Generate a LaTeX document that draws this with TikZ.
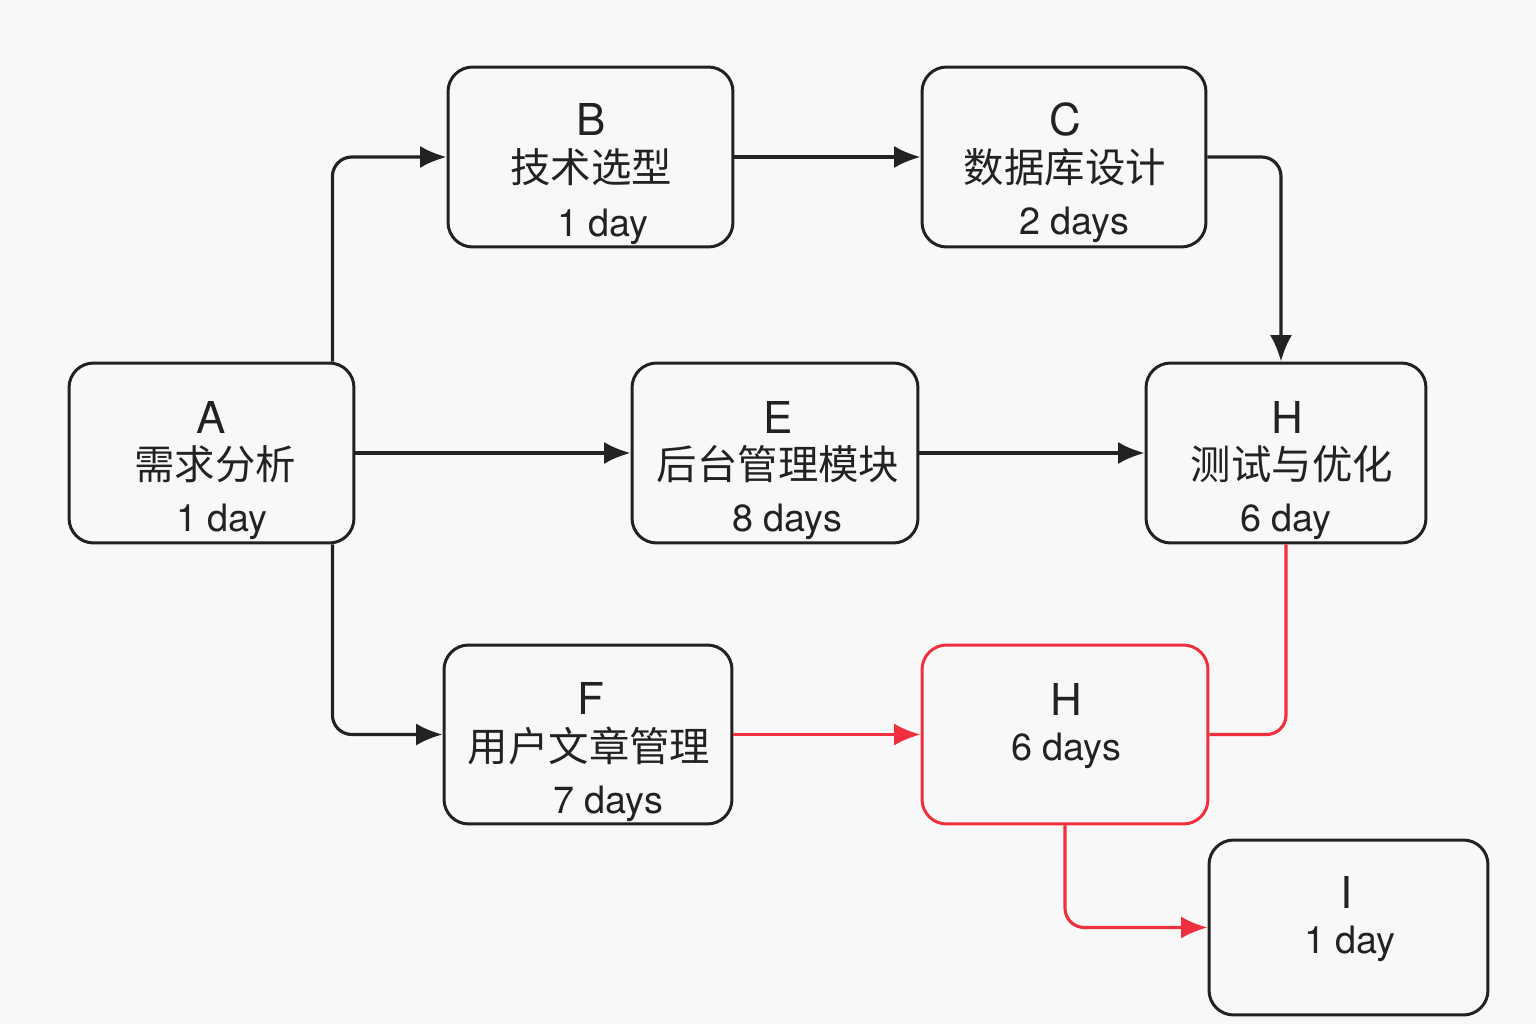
\documentclass[tikz,border=0pt]{standalone}
\usepackage{fontspec}
\setmainfont{TeX Gyre Heros}
\newfontfamily\cjk{Noto Sans CJK SC}
\usetikzlibrary{arrows.meta}
\definecolor{ink}{HTML}{222222}
\definecolor{redl}{HTML}{F0303E}
\definecolor{bg}{HTML}{F8F8F8}
\tikzset{
  box/.style={draw=ink, line width=1.7pt, rounded corners=14pt, fill=bg, inner sep=0pt},
  redbox/.style={box, draw=redl},
  lt/.style={anchor=base, font=\fontsize{25}{25}\selectfont, text=ink, inner sep=0pt},
  ct/.style={anchor=base, font=\cjk\fontsize{23}{23}\selectfont, text=ink, inner sep=0pt},
  dt/.style={anchor=base, font=\fontsize{21.5}{21.5}\selectfont, text=ink, inner sep=0pt},
  conn/.style={draw=ink, line width=1.8pt, rounded corners=11pt},
  arr/.style={conn, -{Latex[length=15pt,width=12.5pt]}},
  rconn/.style={conn, draw=redl},
  rarr/.style={arr, draw=redl},
}
\begin{document}
\begin{tikzpicture}[x=0.02cm, y=-0.02cm]
\fill[bg] (0,0) rectangle (1536,1024);
\useasboundingbox (0,0) rectangle (1536,1024);
% boxes
\node[box, minimum width=5.7cm, minimum height=3.6cm] (A) at (211.5,453) {};
\node[box, minimum width=5.7cm, minimum height=3.6cm] (B) at (590.5,157) {};
\node[box, minimum width=5.68cm, minimum height=3.6cm] (C) at (1064,157) {};
\node[box, minimum width=5.72cm, minimum height=3.6cm] (E) at (775,453) {};
\node[box, minimum width=5.6cm, minimum height=3.6cm] (H) at (1286,453) {};
\node[box, minimum width=5.76cm, minimum height=3.58cm] (F) at (588,734.5) {};
\node[redbox, minimum width=5.72cm, minimum height=3.58cm] (R) at (1065,734.5) {};
\node[box, minimum width=5.58cm, minimum height=3.5cm] (I) at (1348.5,927.5) {};
% texts
\node[lt] (tA1) at (211,433) {A};
\node[ct] (tA2) at (215,479) {需求分析};
\node[dt] (tA3) at (222,531) {1 day};
\node[lt] (tB1) at (591,136) {B};
\node[ct] (tB2) at (591,183) {技术选型};
\node[dt] (tB3) at (603,236) {1 day};
\node[lt] (tC1) at (1065,136) {C};
\node[ct] (tC2) at (1065,183) {数据库设计};
\node[dt] (tC3) at (1074,235) {2 days};
\node[lt] (tE1) at (778,433) {E};
\node[ct] (tE2) at (778,479) {后台管理模块};
\node[dt] (tE3) at (787,531) {8 days};
\node[lt] (tH1) at (1287,433) {H};
\node[ct] (tH2) at (1292,479) {测试与优化};
\node[dt] (tH3) at (1286,531) {6 day};
\node[lt] (tF1) at (591,714) {F};
\node[ct] (tF2) at (589,761) {用户文章管理};
\node[dt] (tF3) at (608,813) {7 days};
\node[lt] (tR1) at (1066,715) {H};
\node[dt] (tR2) at (1066,760) {6 days};
\node[lt] (tI1) at (1347,908) {I};
\node[dt] (tI2) at (1350,953) {1 day};
% connectors
\draw[arr] ([xshift=-0.46cm]A.north east) |- (B.west);
\draw[arr] (B.east) -- (C.west);
\draw[arr] (C.east) -| ([xshift=-0.1cm]H.north);
\draw[arr] (A.east) -- (E.west);
\draw[arr] (E.east) -- (H.west);
\draw[arr] ([xshift=-0.46cm]A.south east) |- (F.west);
\draw[rarr] (F.east) -- (R.west);
\draw[rconn] (H.south) |- (R.east);
\draw[rarr] (R.south) |- (I.west);
\end{tikzpicture}
\end{document}
